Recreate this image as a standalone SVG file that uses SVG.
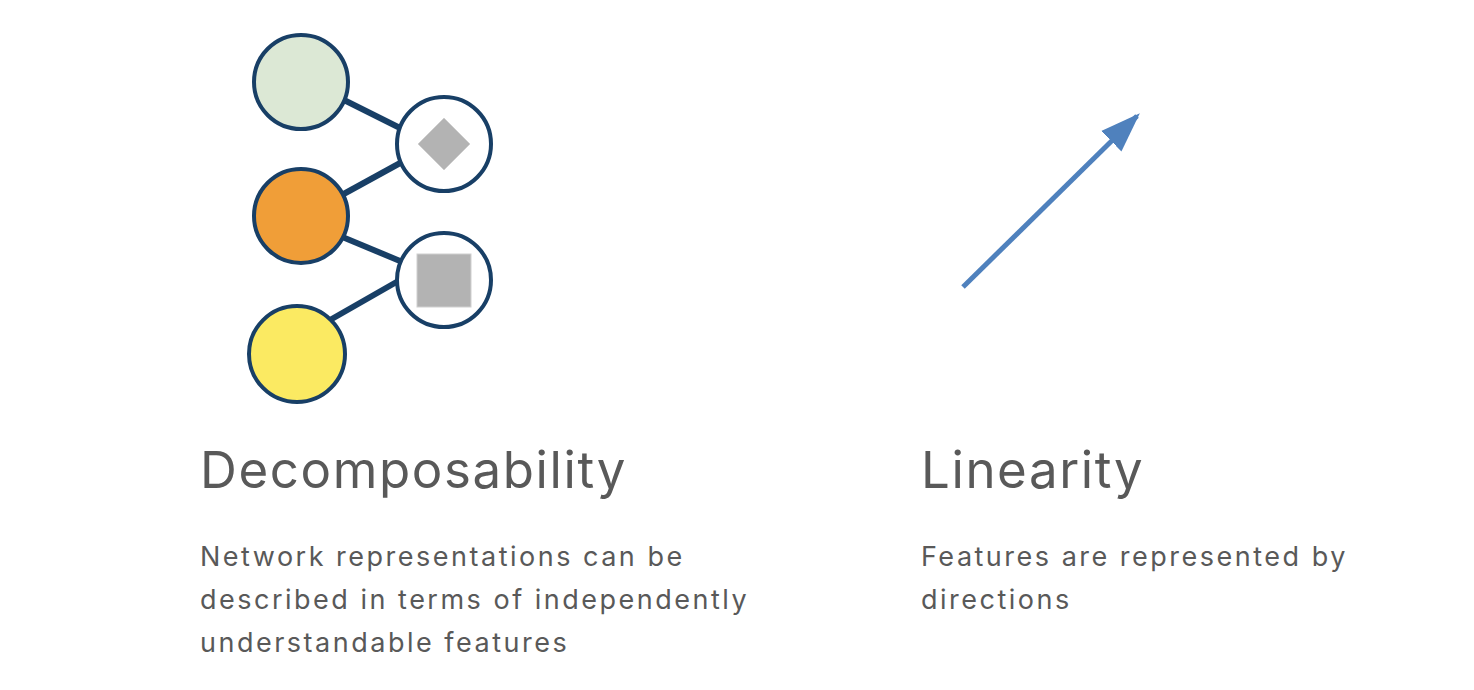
<svg xmlns="http://www.w3.org/2000/svg" width="1474" height="690" viewBox="0 0 1474 690">
<defs>
<style>
.node{stroke:#183f66;stroke-width:4}
.edge{stroke:#183f66;stroke-width:6;fill:none}
.title{font-family:Inter,"Liberation Sans",sans-serif;font-size:51px;letter-spacing:1.6px;fill:#595959}
.body{font-family:Inter,"Liberation Sans",sans-serif;font-size:27px;letter-spacing:2.5px;fill:#595959}
.glyph{fill:#b3b3b3;stroke:#d0d0d0;stroke-width:1}
</style>
<marker id="ah" viewBox="0 0 10 10" refX="9" refY="5" markerWidth="8" markerHeight="8" markerUnits="strokeWidth" orient="auto">
<path d="M0,1.4 L10,5 L0,8.6 Z" fill="#4f81bd"/>
</marker>
</defs>
<rect width="1474" height="690" fill="#ffffff"/>
<g id="connectors">
<line class="edge" x1="340" y1="98" x2="400" y2="128"/>
<line class="edge" x1="340" y1="196" x2="402" y2="162"/>
<line class="edge" x1="340" y1="236" x2="400" y2="261"/>
<line class="edge" x1="330" y1="320" x2="400" y2="280"/>
<line x1="963" y1="287" x2="1137" y2="116" stroke="#4f81bd" stroke-width="5" marker-end="url(#ah)"/>
</g>
<g id="node-green"><circle class="node" cx="301" cy="82" r="47" fill="#dce8d5"/></g>
<g id="node-orange"><circle class="node" cx="301" cy="216" r="47" fill="#f09e38"/></g>
<g id="node-yellow"><circle class="node" cx="297" cy="354" r="48" fill="#fbea62"/></g>
<g id="node-diamond"><circle class="node" cx="444" cy="144" r="47" fill="#ffffff"/>
<polygon class="glyph" points="444,118 470,144 444,170 418,144"/></g>
<g id="node-square"><circle class="node" cx="444" cy="280" r="47" fill="#ffffff"/>
<rect class="glyph" x="417" y="254" width="54" height="53"/></g>
<g id="label-decomp">
<text class="title" x="200" y="488">Decomposability</text>
<text class="body" x="200" y="566">Network representations can be</text>
<text class="body" x="200" y="609">described in terms of independently</text>
<text class="body" x="200" y="652">understandable features</text>
</g>
<g id="label-linear">
<text class="title" x="921" y="488">Linearity</text>
<text class="body" x="921" y="566">Features are represented by</text>
<text class="body" x="921" y="609">directions</text>
</g>
</svg>
